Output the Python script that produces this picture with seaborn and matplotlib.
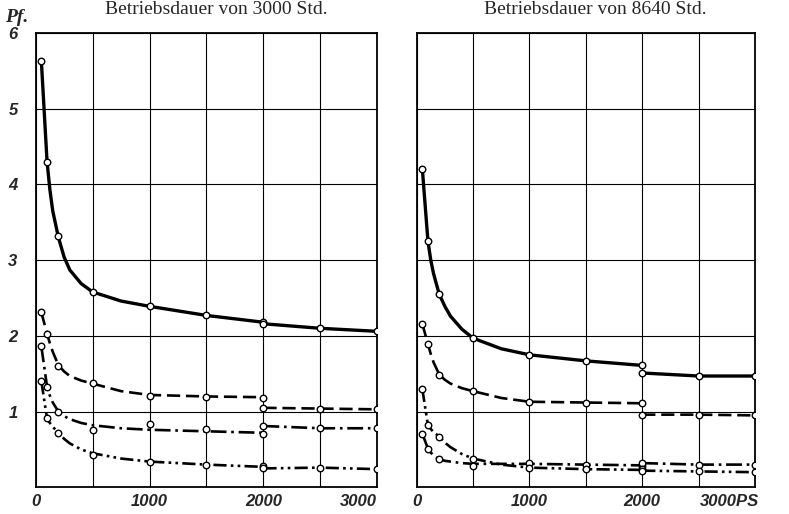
import matplotlib
matplotlib.use("Agg")
import matplotlib.pyplot as plt
import matplotlib.transforms as mtransforms
import seaborn as sns

# PS values of the measured points, curves are split at 2000 PS
ps_a = [50, 100, 200, 500, 1000, 1500, 2000]
ps_b = [2000, 2500, 3000]
curve_ps_a = [50, 100, 125, 150, 200, 250, 300, 400, 500, 750, 1000, 1500, 2000]

# ---- Betriebsdauer 3000 Std. (Pf.) ----
l_solid_pts = [5.63, 4.30, 3.32, 2.58, 2.39, 2.27, 2.18]
l_solid_pts_b = [2.16, 2.10, 2.06]
l_solid_line = [5.63, 4.30, 3.93, 3.65, 3.30, 3.04, 2.87, 2.69, 2.58, 2.46, 2.39, 2.27, 2.18]

l_dash_pts = [2.31, 2.03, 1.60, 1.38, 1.21, 1.19, 1.18]
l_dash_pts_b = [1.05, 1.04, 1.03]
l_dash_line = [2.31, 2.03, 1.90, 1.79, 1.61, 1.53, 1.47, 1.41, 1.37, 1.27, 1.22, 1.20, 1.19]

l_dashdot_pts = [1.86, 1.33, 1.00, 0.76, 0.84, 0.77, 0.71]
l_dashdot_pts_b = [0.81, 0.78, 0.78]
l_dashdot_line = [1.86, 1.33, 1.21, 1.12, 1.00, 0.94, 0.90, 0.85, 0.82, 0.78, 0.76, 0.74, 0.72]

l_dotdot_pts = [1.40, 0.91, 0.72, 0.43, 0.34, 0.30, 0.28]
l_dotdot_pts_b = [0.25, 0.26, 0.24]
l_dotdot_line = [1.40, 0.91, 0.85, 0.80, 0.72, 0.64, 0.58, 0.50, 0.45, 0.38, 0.34, 0.30, 0.27]

# ---- Betriebsdauer 8640 Std. (Pf.) ----
r_solid_pts = [4.21, 3.25, 2.55, 1.97, 1.75, 1.67, 1.61]
r_solid_pts_b = [1.51, 1.47, 1.47]
r_solid_line = [4.21, 3.25, 3.00, 2.82, 2.55, 2.39, 2.26, 2.09, 1.97, 1.83, 1.75, 1.67, 1.61]

r_dash_pts = [2.16, 1.89, 1.48, 1.27, 1.13, 1.12, 1.11]
r_dash_pts_b = [0.96, 0.96, 0.95]
r_dash_line = [2.16, 1.89, 1.76, 1.65, 1.49, 1.42, 1.37, 1.31, 1.27, 1.18, 1.13, 1.12, 1.11]

r_dashdot_pts = [0.71, 0.51, 0.37, 0.28, 0.32, 0.29, 0.28]
r_dashdot_pts_b = [0.32, 0.30, 0.30]
r_dashdot_line = [0.71, 0.51, 0.46, 0.42, 0.37, 0.35, 0.34, 0.32, 0.31, 0.31, 0.31, 0.30, 0.29]

r_dotdot_pts = [1.30, 0.82, 0.67, 0.38, 0.26, 0.24, 0.24]
r_dotdot_pts_b = [0.22, 0.21, 0.20]
r_dotdot_line = [1.30, 0.82, 0.77, 0.73, 0.67, 0.59, 0.53, 0.44, 0.38, 0.30, 0.26, 0.24, 0.23]

titles = ["Betriebsdauer von 3000 Std.", "Betriebsdauer von 8640 Std."]
x_ticks = [0, 1000, 2000, 3000]
y_ticks = [1, 2, 3, 4, 5, 6]

sns.set_theme(style="white")
plt.rcParams["font.family"] = ["Liberation Sans", "DejaVu Sans"]

styles = {
    "solid": dict(linestyle="-", linewidth=2.4),
    "dash": dict(linestyle=(0, (5, 2.2)), linewidth=1.9),
    "dashdot": dict(linestyle=(0, (6, 1.8, 1, 1.8)), linewidth=1.9),
    "dotdot": dict(linestyle=(0, (5, 1.6, 1, 1.6, 1, 1.6)), linewidth=1.9),
}

panels = [
    {"solid": (l_solid_line, l_solid_pts, l_solid_pts_b),
     "dash": (l_dash_line, l_dash_pts, l_dash_pts_b),
     "dashdot": (l_dashdot_line, l_dashdot_pts, l_dashdot_pts_b),
     "dotdot": (l_dotdot_line, l_dotdot_pts, l_dotdot_pts_b)},
    {"solid": (r_solid_line, r_solid_pts, r_solid_pts_b),
     "dash": (r_dash_line, r_dash_pts, r_dash_pts_b),
     "dashdot": (r_dashdot_line, r_dashdot_pts, r_dashdot_pts_b),
     "dotdot": (r_dotdot_line, r_dotdot_pts, r_dotdot_pts_b)},
]

fig = plt.figure(figsize=(7.89, 5.14), dpi=100)
ax_l = fig.add_axes([0.0452, 0.0519, 0.4330, 0.8839])
ax_r = fig.add_axes([0.5281, 0.0519, 0.4288, 0.8839])

tick_font = dict(fontsize=12, fontweight="bold", fontstyle="italic")

for i, (ax, curves) in enumerate(zip([ax_l, ax_r], panels)):
    for name, (line_a, pts_a, pts_b) in curves.items():
        sns.lineplot(x=curve_ps_a, y=line_a, ax=ax, color="black",
                     dash_capstyle="butt", **styles[name])
        sns.lineplot(x=ps_b, y=pts_b, ax=ax, color="black",
                     dash_capstyle="butt", **styles[name])
        for xs, ys in [(ps_a, pts_a), (ps_b, pts_b)]:
            sns.scatterplot(x=xs, y=ys, ax=ax, s=22, color="white",
                            edgecolor="black", linewidth=1.0, zorder=5)
    ax.set_xlim(0, 3000)
    ax.set_ylim(0, 6)
    ax.set_xticks(range(0, 3001, 500), minor=True)
    ax.set_xticks(x_ticks)
    ax.set_yticks(range(0, 7))
    ax.grid(True, which="both", color="black", linewidth=0.8)
    ax.set_axisbelow(True)
    for sp in ax.spines.values():
        sp.set_color("black")
        sp.set_linewidth(1.3)
    ax.tick_params(length=0, which="both", pad=5)
    labels = [str(t) for t in x_ticks]
    if i == 1:
        labels[-1] = "3000PS"
    ax.set_xticklabels(labels, **tick_font)
    last = ax.get_xticklabels()[-1]
    if i == 0:
        last.set_horizontalalignment("right")
    else:
        last.set_horizontalalignment("left")
        last.set_transform(last.get_transform() + mtransforms.ScaledTranslation(
            -0.55, 0, fig.dpi_scale_trans))
    if i == 0:
        ax.set_yticklabels([""] + [str(t) for t in y_ticks], **tick_font)
        ax.tick_params(axis="y", pad=13)
    else:
        ax.set_yticklabels([])
    ax.set_xlabel("")
    ax.set_ylabel("")
    pos = ax.get_position()
    fig.text((pos.x0 + pos.x1) / 2 + 0.012, 0.999, titles[i], ha="center",
             va="top", fontsize=14, family=["Liberation Serif", "DejaVu Serif"])

fig.text(0.006, 1 - 22 / 514, "Pf.", ha="left", va="baseline",
         fontsize=14, fontweight="bold", fontstyle="italic",
         family=["Liberation Serif", "DejaVu Serif"])

fig.savefig("out.png", dpi=100)
